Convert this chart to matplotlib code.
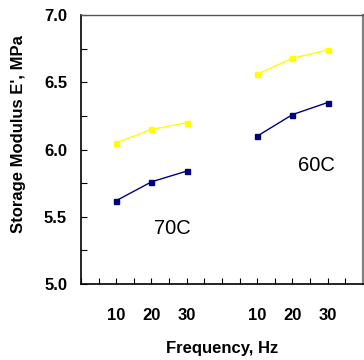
import matplotlib
matplotlib.use("Agg")
import matplotlib.pyplot as plt
from matplotlib.ticker import MultipleLocator, FixedLocator

plt.rcParams['font.family'] = ['Liberation Sans', 'DejaVu Sans']

freq_labels = ["10", "20", "30", "10", "20", "30"]
pos_70 = [2, 4, 6]
pos_60 = [10, 12, 14]
yellow_70 = [6.05, 6.15, 6.20]
blue_70 = [5.62, 5.76, 5.84]
yellow_60 = [6.56, 6.68, 6.74]
blue_60 = [6.10, 6.26, 6.35]

fig = plt.figure(figsize=(3.64, 3.60), dpi=100)
ax = fig.add_axes([0.2225, 0.211, 0.7745, 0.747])

yc = '#FFFF00'
bc = '#000080'
for xs, ys, c in [(pos_70, yellow_70, yc), (pos_70, blue_70, bc),
                  (pos_60, yellow_60, yc), (pos_60, blue_60, bc)]:
    ax.plot(xs, ys, color=c, lw=1, marker='s', ms=3.6, mec=c, mfc=c)

ax.set_xlim(0, 16)
ax.set_ylim(5.0, 7.0)
ax.xaxis.set_major_locator(FixedLocator(pos_70 + pos_60))
ax.set_xticklabels(freq_labels)
ax.xaxis.set_minor_locator(MultipleLocator(1))
ax.yaxis.set_major_locator(MultipleLocator(0.5))
ax.yaxis.set_minor_locator(MultipleLocator(0.25))
ax.yaxis.set_major_formatter(matplotlib.ticker.FormatStrFormatter('%.1f'))

ax.tick_params(axis='both', which='both', direction='in', length=4, width=0.8)
ax.tick_params(axis='x', which='major', pad=17, labelsize=12)
ax.tick_params(axis='y', which='major', pad=10, labelsize=12)
ax.tick_params(right=False, top=False)
for lbl in ax.get_xticklabels() + ax.get_yticklabels():
    lbl.set_fontweight('bold')

ax.spines['left'].set_linewidth(1.2)
ax.spines['bottom'].set_linewidth(1.2)
ax.spines['top'].set_color('#555555')
ax.spines['top'].set_linewidth(1.0)
ax.spines['right'].set_color('#808080')
ax.spines['right'].set_linewidth(1.6)

ax.set_xlabel('Frequency, Hz', fontsize=12, fontweight='bold', labelpad=13)
ax.set_ylabel("Storage Modulus E', MPa", fontsize=12, fontweight='bold',
              va='center')
ax.yaxis.set_label_coords(-0.223, 0.558)

ax.text(5.16, 5.41, '70C', fontsize=14.5, ha='center', va='center')
ax.text(13.37, 5.88, '60C', fontsize=14.5, ha='center', va='center')

fig.savefig('out.png', dpi=100)
